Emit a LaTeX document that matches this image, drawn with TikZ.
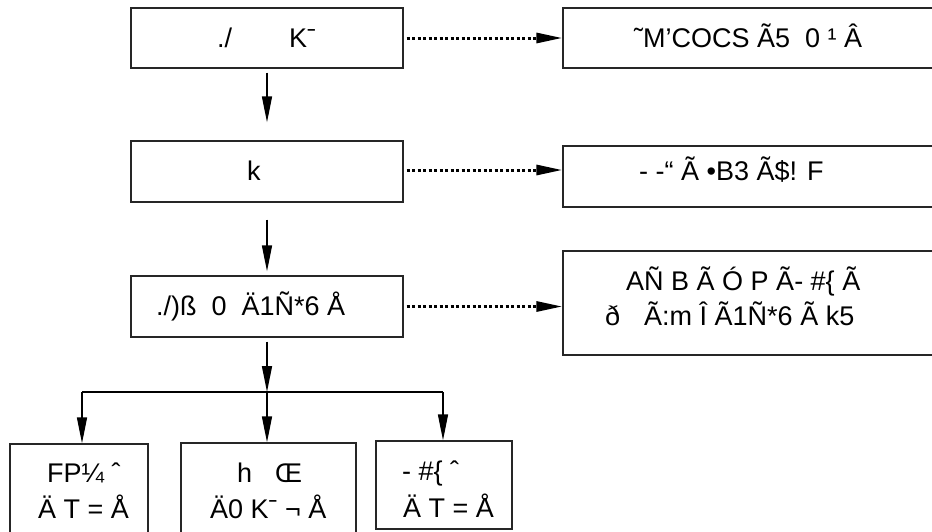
\documentclass[tikz,border=0pt]{standalone}
\usepackage{fontspec}
\setmainfont{Liberation Sans}
\usetikzlibrary{arrows.meta}
\begin{document}
\begin{tikzpicture}[x=1pt,y=-1pt,
  box/.style={draw=black!85,line width=1.3pt,rectangle,inner sep=0pt},
  txt/.style={anchor=base west,inner sep=0pt,font=\fontsize{27}{35}\selectfont},
  arr/.style={line width=1.5pt,-{Triangle[length=26pt,width=10pt]}},
  dotarr/.style={line width=3pt,dash pattern=on 3pt off 2.5pt,-{Triangle[length=26pt,width=10pt]}}
]
\clip (0,0) rectangle (932,531);
\fill[white] (0,0) rectangle (932,531);
% left column boxes
\node[box,minimum width=272pt,minimum height=60pt] (b1) at (267,38) {};
\node[box,minimum width=272pt,minimum height=61pt] (b2) at (267,171.5) {};
\node[box,minimum width=272pt,minimum height=61pt] (b3) at (267,306.5) {};
% right column boxes
\node[box,minimum width=377pt,minimum height=60pt] (r1) at (751.5,38) {};
\node[box,minimum width=377pt,minimum height=61pt] (r2) at (751.5,176.5) {};
\node[box,minimum width=377pt,minimum height=104pt] (r3) at (751.5,303) {};
% bottom boxes
\node[box,minimum width=138pt,minimum height=101pt] (c1) at (79,494.5) {};
\node[box,minimum width=175pt,minimum height=102pt] (c2) at (268.5,494) {};
\node[box,minimum width=136pt,minimum height=88pt] (c3) at (444,485) {};
% texts
\node[txt] (t1) at (217,47) {./\hspace{57pt}Kˉ};
\node[txt] (tr1) at (634,47) {˜M’COCS Ã5\ \ 0 ¹ Â};
\node[txt] (t2) at (247,180) {k};
\node[txt] (tr2) at (639,180) {- -“ Ã •B3 Ã\$! F};
\node[txt] (t3) at (156,315) {./)ß\ \ 0\ \ Ä1Ñ*6 Å};
\node[txt] (tr3a) at (626,290) {AÑ B Ã Ó P Ã- \#\{ Ã};
\node[txt] (tr3b) at (605,325) {ð\hspace{24pt}Ã:m Î Ã1Ñ*6 Ã k5};
\node[txt] (tc1a) at (47,482) {FP¼ ˆ};
\node[txt] (tc1b) at (38,518) {Ä T = Å};
\node[txt] (tc2a) at (237,482) {h\hspace{23pt}Œ};
\node[txt] (tc2b) at (210,518) {Ä0 Kˉ ¬ Å};
\node[txt] (tc3a) at (402,480) {- \#\{ ˆ};
\node[txt] (tc3b) at (403,517) {Ä T = Å};
% vertical arrows
\draw[arr,shorten <=4pt,shorten >=18pt] (b1.south) -- (b2.north);
\draw[arr,shorten <=17pt,shorten >=4pt] (b2.south) -- (b3.north);
\coordinate (bar) at (267,392);
\coordinate (barL) at (82,392);
\coordinate (barR) at (443,392);
\draw[arr,shorten <=4pt] (b3.south) -- (bar);
\draw[line width=1.5pt] (barL) -- (barR);
\draw[arr] (barL) -- (barL |- c1.north);
\draw[arr] (bar) -- (bar |- c2.north);
\draw[arr] (barR) -- (barR |- c3.north);
% dotted arrows
\draw[dotarr,shorten <=3pt] (b1.east) -- (b1.east -| r1.west);
\draw[dotarr,shorten <=3pt] ([yshift=1.5pt]b2.east) -- ([yshift=1.5pt]b2.east -| r2.west);
\draw[dotarr,shorten <=3pt] (b3.east) -- (b3.east -| r3.west);
\end{tikzpicture}
\end{document}
